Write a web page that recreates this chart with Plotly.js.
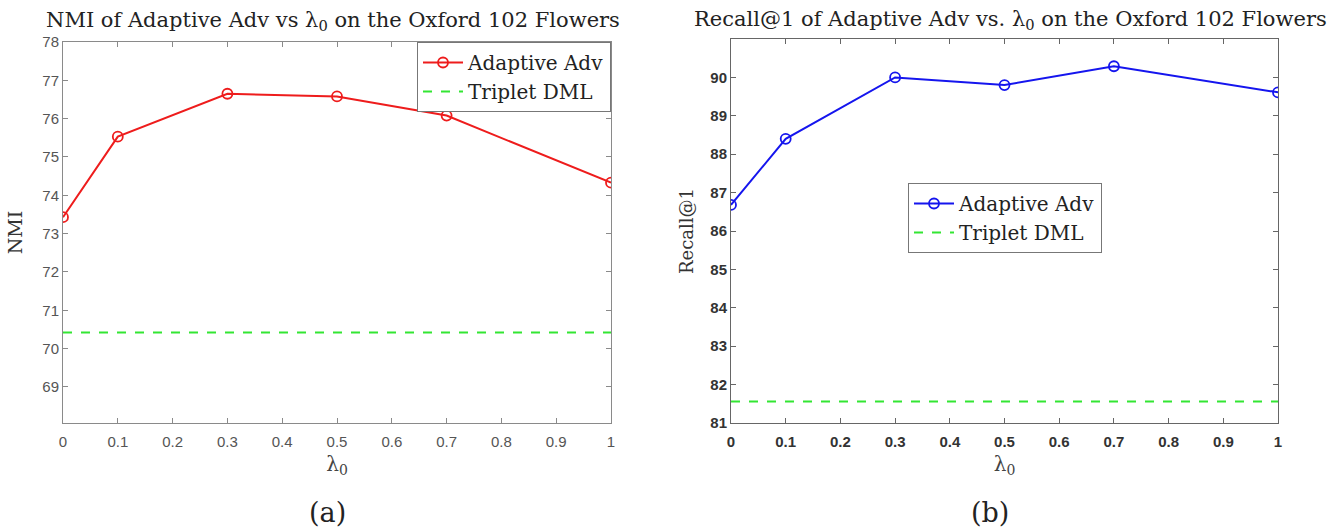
<!DOCTYPE html>
<html>
<head>
<meta charset="utf-8">
<script src="https://cdn.plot.ly/plotly-3.0.1.min.js"></script>
<style>html,body{margin:0;padding:0;background:#fff;}#chart{width:1339px;height:532px;}</style>
</head>
<body>
<div id="chart"></div>
<script>
// Data
const lambda0 = [0, 0.1, 0.3, 0.5, 0.7, 1];
const nmiAdaptive = [73.43, 75.53, 76.65, 76.58, 76.08, 74.33];
const nmiTriplet = 70.42;
const recallAdaptive = [86.68, 88.40, 90.00, 89.80, 90.29, 89.61];
const recallTriplet = 81.56;
const xTicks = [0, 0.1, 0.2, 0.3, 0.4, 0.5, 0.6, 0.7, 0.8, 0.9, 1];
const xTickText = ['0', '0.1', '0.2', '0.3', '0.4', '0.5', '0.6', '0.7', '0.8', '0.9', '1'];
const nmiTicks = [69, 70, 71, 72, 73, 74, 75, 76, 77, 78];
const recallTicks = [81, 82, 83, 84, 85, 86, 87, 88, 89, 90];

const serif = 'DejaVu Serif, Liberation Serif, serif';
const sans = 'Liberation Sans, Arial, sans-serif';

const traces = [
  {x: lambda0, y: nmiAdaptive, xaxis: 'x', yaxis: 'y', mode: 'lines+markers', name: 'Adaptive Adv',
   line: {color: '#ee1c1c', width: 2}, marker: {symbol: 'circle-open', size: 10, color: '#ee1c1c', line: {width: 1.8}},
   legend: 'legend'},
  {x: [0, 1], y: [nmiTriplet, nmiTriplet], xaxis: 'x', yaxis: 'y', mode: 'lines', name: 'Triplet DML',
   line: {color: '#33e633', width: 2, dash: 'dash'}, legend: 'legend'},
  {x: lambda0, y: recallAdaptive, xaxis: 'x2', yaxis: 'y2', mode: 'lines+markers', name: 'Adaptive Adv',
   line: {color: '#1515ee', width: 2}, marker: {symbol: 'circle-open', size: 10, color: '#1515ee', line: {width: 1.8}},
   legend: 'legend2'},
  {x: [0, 1], y: [recallTriplet, recallTriplet], xaxis: 'x2', yaxis: 'y2', mode: 'lines', name: 'Triplet DML',
   line: {color: '#33e633', width: 2, dash: 'dash'}, legend: 'legend2'}
];

const axCommon = {
  showgrid: false, zeroline: false, showline: true, mirror: 'allticks',
  ticks: 'inside', ticklen: 5, tickwidth: 1, fixedrange: true
};

const layout = {
  width: 1339, height: 532,
  margin: {l: 0, r: 0, t: 0, b: 0},
  paper_bgcolor: '#fff', plot_bgcolor: '#fff',
  showlegend: true,
  xaxis: Object.assign({}, axCommon, {
    domain: [63/1339, 611/1339], range: [0, 1], anchor: 'y',
    tickvals: xTicks, ticktext: xTickText, linecolor: '#8a8a8a', tickcolor: '#8a8a8a',
    tickfont: {family: sans, size: 15, color: '#555'}, ticklabelstandoff: 5,
    title: {text: 'λ<sub>0</sub>', font: {family: serif, size: 20, color: '#444'}, standoff: 7}
  }),
  yaxis: Object.assign({}, axCommon, {
    domain: [(532-423)/532, (532-42)/532], range: [68.06, 78], anchor: 'x',
    tickvals: nmiTicks, linecolor: '#8a8a8a', tickcolor: '#8a8a8a',
    tickfont: {family: sans, size: 15, color: '#555'},
    title: {text: 'NMI', font: {family: serif, size: 19, color: '#333'}, standoff: 14}
  }),
  xaxis2: Object.assign({}, axCommon, {
    domain: [731/1339, 1278/1339], range: [0, 1], anchor: 'y2',
    tickvals: xTicks, ticktext: xTickText, linecolor: '#666', tickcolor: '#666',
    tickfont: {family: sans, size: 15, color: '#333', weight: 'bold'}, ticklabelstandoff: 5,
    title: {text: 'λ<sub>0</sub>', font: {family: serif, size: 20, color: '#444'}, standoff: 7}
  }),
  yaxis2: Object.assign({}, axCommon, {
    domain: [(532-423)/532, (532-39)/532], range: [81, 91], anchor: 'x2',
    tickvals: recallTicks, linecolor: '#666', tickcolor: '#666',
    tickfont: {family: sans, size: 15, color: '#333', weight: 'bold'},
    title: {text: 'Recall@1', font: {family: serif, size: 18, color: '#333'}, standoff: 12}
  }),
  legend: {
    x: 611/1339, xanchor: 'right', y: (532-42)/532, yanchor: 'top',
    bgcolor: '#fff', bordercolor: '#777', borderwidth: 1,
    font: {family: serif, size: 20, color: '#222'}, itemwidth: 40, tracegroupgap: 0
  },
  legend2: {
    x: 1102/1339, xanchor: 'right', y: (532-183)/532, yanchor: 'top',
    bgcolor: '#fff', bordercolor: '#777', borderwidth: 1,
    font: {family: serif, size: 20, color: '#222'}, itemwidth: 40, tracegroupgap: 0
  },
  annotations: [
    {text: 'NMI of Adaptive Adv vs λ<sub>0</sub> on the Oxford 102 Flowers', xref: 'paper', yref: 'paper',
     x: 333/1339, y: (532-21)/532, xanchor: 'center', yanchor: 'middle', showarrow: false,
     font: {family: serif, size: 21, color: '#222'}},
    {text: 'Recall@1 of Adaptive Adv vs. λ<sub>0</sub> on the Oxford 102 Flowers', xref: 'paper', yref: 'paper',
     x: 1010/1339, y: (532-20)/532, xanchor: 'center', yanchor: 'middle', showarrow: false,
     font: {family: serif, size: 21, color: '#222'}},
    {text: '(a)', xref: 'paper', yref: 'paper', x: 327/1339, y: (532-512)/532, xanchor: 'center', yanchor: 'middle',
     showarrow: false, font: {family: serif, size: 27, color: '#222'}},
    {text: '(b)', xref: 'paper', yref: 'paper', x: 990/1339, y: (532-512)/532, xanchor: 'center', yanchor: 'middle',
     showarrow: false, font: {family: serif, size: 27, color: '#222'}}
  ]
};

Plotly.newPlot('chart', traces, layout, {displayModeBar: false, staticPlot: true});
</script>
</body>
</html>
